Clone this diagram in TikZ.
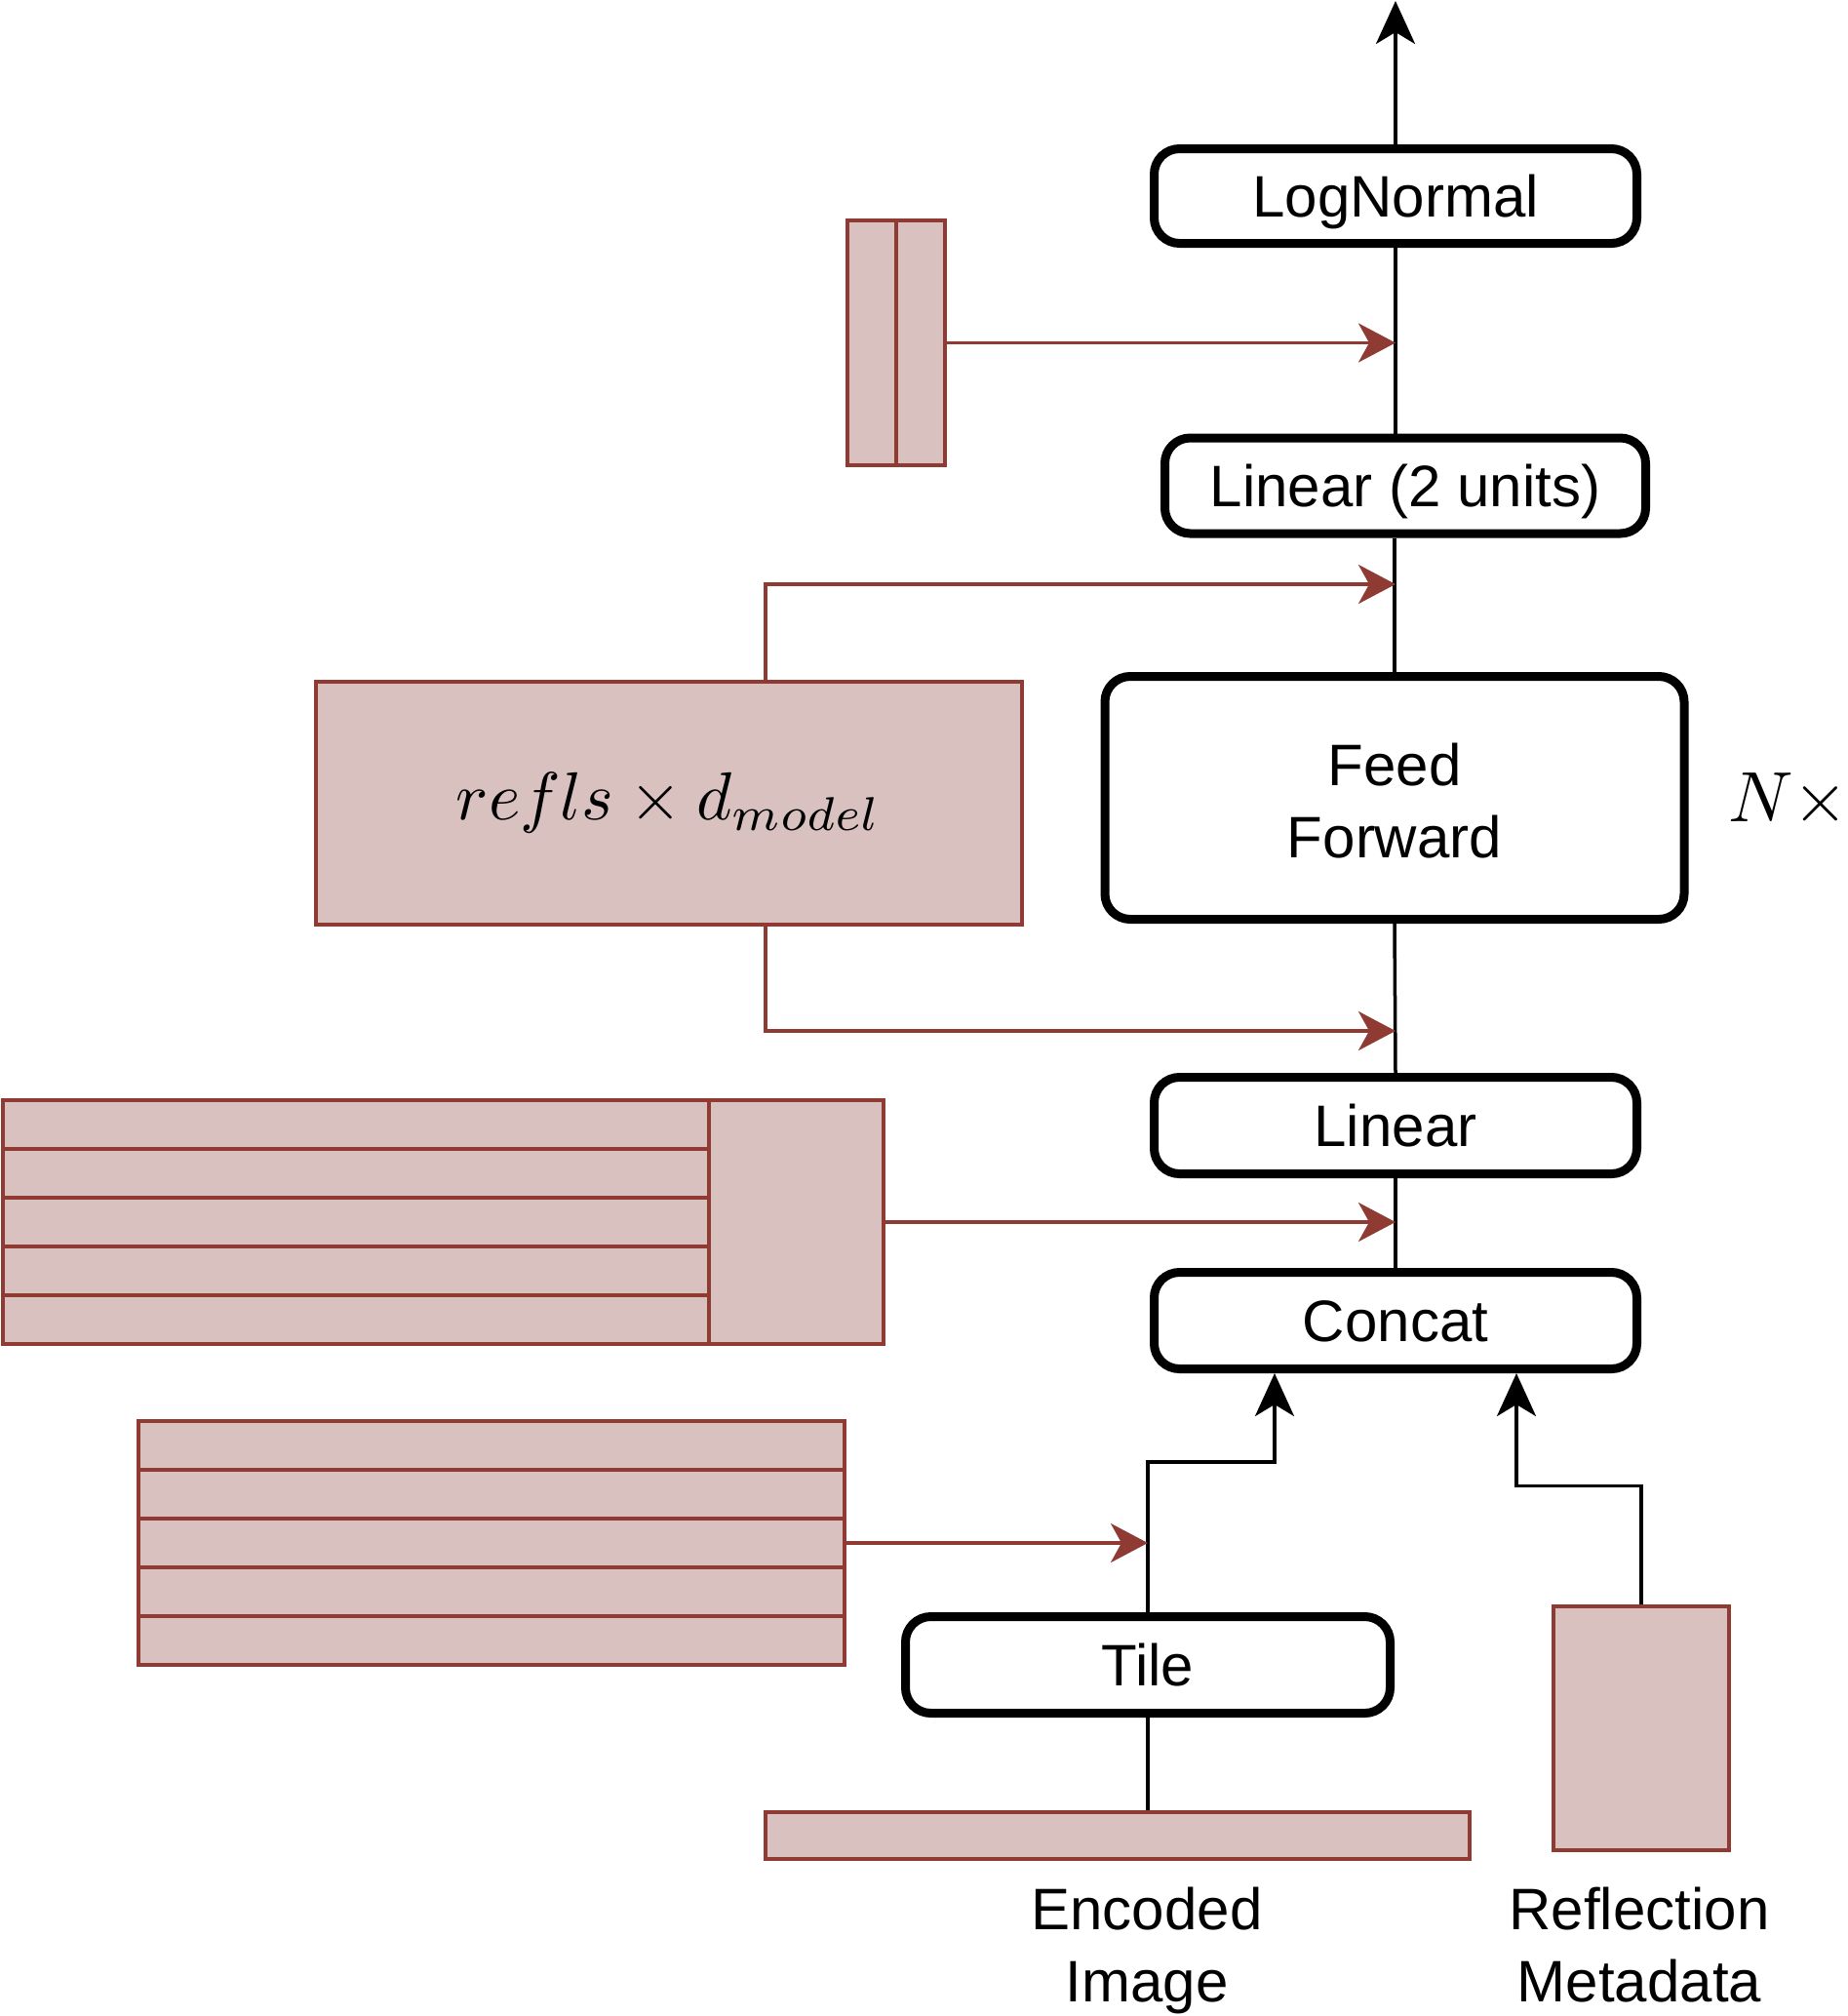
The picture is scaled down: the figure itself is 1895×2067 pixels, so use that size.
\documentclass[tikz,border=0pt]{standalone}
\usepackage{graphicx}
\usepackage{fontspec}
\setmainfont{Liberation Sans}
\usetikzlibrary{arrows.meta}
\definecolor{rfill}{HTML}{D9C1C0}
\definecolor{rline}{HTML}{8F3A33}
\tikzset{
  bbox/.style={draw=black, line width=9pt, rounded corners=26pt, fill=white,
    font=\fontsize{60}{74}\selectfont, inner sep=0pt, align=center},
  oneline/.style={text height=50pt, text depth=8pt},
  rbox/.style={draw=rline, fill=rfill, line width=3.5pt, inner sep=0pt},
  rsep/.style={draw=rline, line width=3.5pt},
  bconn/.style={draw=black, line width=3.5pt},
  barrow/.style={bconn, -{Stealth[length=44pt,width=40pt,inset=12pt]}},
  rarrow/.style={draw=rline, line width=3.5pt, -{Stealth[length=38pt,width=40pt,inset=11pt]}},
  lbl/.style={font=\fontsize{60}{74}\selectfont, align=center, inner sep=0pt,
    text height=118pt, text depth=0pt, anchor=south},
  mathlbl/.style={inner sep=0pt},
}
\begin{document}
\begin{tikzpicture}[x=1pt,y=-1pt]
\useasboundingbox (0,0) rectangle (1895,2067);
% helper coordinates
\coordinate (spine) at (1431,0);
\coordinate (rx) at (785,0);
\coordinate (tx) at (1307,0);
\coordinate (mx) at (1555,0);
\coordinate (topc) at (0,1);
\coordinate (p1) at (1431,599);
\coordinate (p2) at (1431,1057);

% black boxes
\node[bbox, oneline, minimum width=495pt, minimum height=97pt] (lognormal) at (1431,201) {LogNormal};
\node[bbox, oneline, minimum width=493pt, minimum height=98pt] (linear2) at (1441,498) {Linear (2 units)};
\node[bbox, text height=122pt, text depth=0pt, minimum width=594pt, minimum height=249pt] (ff) at (1430,818) {Feed\\Forward};
\node[bbox, oneline, minimum width=495pt, minimum height=99pt] (linear) at (1431,1154) {Linear};
\node[bbox, oneline, minimum width=495pt, minimum height=99pt] (concat) at (1431,1354) {Concat};
\node[bbox, oneline, minimum width=497pt, minimum height=99pt] (tile) at (1177,1707) {Tile};

% red boxes
\node[rbox, minimum width=100pt, minimum height=251pt] (small) at (919,351.5) {};
\draw[rsep] (small.north) -- (small.south);

\node[rbox, minimum width=724pt, minimum height=249pt] (refls) at (686,823.5)
  {\scalebox{6.95}{$refls\times d_{model}$}};

\node[rbox, minimum width=903pt, minimum height=250pt] (big) at (454.5,1253) {};
\foreach \yy in {1178,1228,1278,1328} \draw[rsep] (3,\yy) -- (727,\yy);
\draw[rsep] (727,1128) -- (727,1378);

\node[rbox, minimum width=724pt, minimum height=250pt] (second) at (504,1582) {};
\foreach \yy in {1507,1557,1607,1657} \draw[rsep] (142,\yy) -- (866,\yy);

\node[rbox, minimum width=722pt, minimum height=48pt] (encbar) at (1146,1882) {};
\node[rbox, minimum width=180pt, minimum height=250pt] (meta) at (1683,1772) {};

% labels
\node[lbl] (enclbl) at (1176,2053) {Encoded\\Image};
\node[lbl] (metalbl) at (1681,2053) {Reflection\\Metadata};
\node[mathlbl, anchor=base west] (nx) at (1772,842) {\scalebox{7.3}{$N\times$}};

% black connectors
\draw[bconn] (concat.north) -- (linear.south);
\draw[bconn] (linear.north) -- (ff.south);
\draw[bconn] (ff.north) -- (ff.north |- linear2.south);
\draw[bconn] (linear2.north -| spine) -- (lognormal.south);
\draw[barrow] (lognormal.north) -- (lognormal.north |- topc);
\draw[bconn] (tile.south |- encbar.north) -- (tile.south);
\draw[barrow] (tile.north) -- ++(0,-154) -| (concat.south -| tx);
\draw[barrow] (meta.north) -- ++(0,-122) -| (concat.south -| mx);

% red connectors
\draw[rarrow] (small.east) -- (small.east -| spine);
\draw[rarrow] (refls.north -| rx) |- (p1);
\draw[rarrow] (refls.south -| rx) |- (p2);
\draw[rarrow] (big.east) -- (big.east -| spine);
\draw[rarrow] (second.east) -- (second.east -| tile.north);
\end{tikzpicture}
\end{document}
